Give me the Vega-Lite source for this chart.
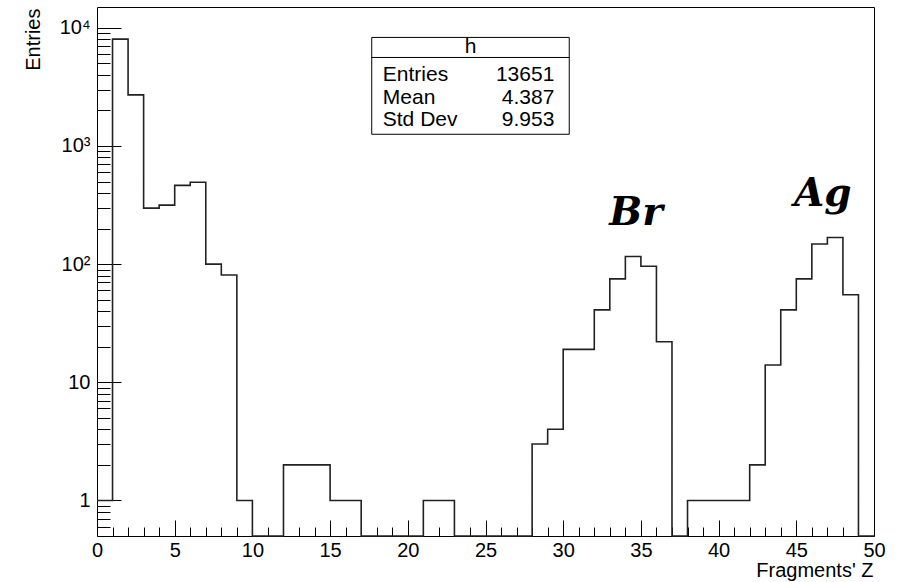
{
  "$schema": "https://vega.github.io/schema/vega-lite/v6.json",
  "width": 777,
  "height": 529,
  "autosize": "none",
  "padding": {"left": 97, "top": 7, "right": 28, "bottom": 46},
  "background": "white",
  "config": {"view": {"stroke": "#000", "strokeWidth": 1}, "font": "Liberation Sans"},
  "resolve": {"axis": {"x": "independent", "y": "independent"}},
  "datasets": {
    "hist": [
      {"z": 0, "entries": 1}, {"z": 1, "entries": 8020}, {"z": 2, "entries": 2704}, {"z": 3, "entries": 298},
      {"z": 4, "entries": 316}, {"z": 5, "entries": 464}, {"z": 6, "entries": 493}, {"z": 7, "entries": 100},
      {"z": 8, "entries": 81}, {"z": 9, "entries": 1}, {"z": 10, "entries": 0}, {"z": 11, "entries": 0},
      {"z": 12, "entries": 2}, {"z": 13, "entries": 2}, {"z": 14, "entries": 2}, {"z": 15, "entries": 1},
      {"z": 16, "entries": 1}, {"z": 17, "entries": 0}, {"z": 18, "entries": 0}, {"z": 19, "entries": 0},
      {"z": 20, "entries": 0}, {"z": 21, "entries": 1}, {"z": 22, "entries": 1}, {"z": 23, "entries": 0},
      {"z": 24, "entries": 0}, {"z": 25, "entries": 0}, {"z": 26, "entries": 0}, {"z": 27, "entries": 0},
      {"z": 28, "entries": 3}, {"z": 29, "entries": 4}, {"z": 30, "entries": 19}, {"z": 31, "entries": 19},
      {"z": 32, "entries": 41}, {"z": 33, "entries": 75}, {"z": 34, "entries": 116}, {"z": 35, "entries": 96},
      {"z": 36, "entries": 22}, {"z": 37, "entries": 0}, {"z": 38, "entries": 1}, {"z": 39, "entries": 1},
      {"z": 40, "entries": 1}, {"z": 41, "entries": 1}, {"z": 42, "entries": 2}, {"z": 43, "entries": 14},
      {"z": 44, "entries": 41}, {"z": 45, "entries": 75}, {"z": 46, "entries": 148}, {"z": 47, "entries": 168},
      {"z": 48, "entries": 55}, {"z": 49, "entries": 0}, {"z": 50, "entries": 0}
    ]
  },
  "layer": [
    {
      "data": {"name": "hist"},
      "mark": {"type": "line", "interpolate": "step-after", "color": "#222", "strokeWidth": 1.6},
      "encoding": {
        "x": {
          "field": "z", "type": "quantitative",
          "scale": {"domain": [0, 50], "nice": false, "zero": false},
          "axis": {
            "values": [0,1,2,3,4,5,6,7,8,9,10,11,12,13,14,15,16,17,18,19,20,21,22,23,24,25,26,27,28,29,30,31,32,33,34,35,36,37,38,39,40,41,42,43,44,45,46,47,48,49,50],
            "tickSize": {"condition": {"test": "datum.value % 5 === 0", "value": -16}, "value": -9},
            "labelExpr": "datum.value % 5 === 0 ? datum.label : ''",
            "domain": false, "grid": false,
            "tickColor": "#000", "tickWidth": 1,
            "labelFontSize": 20, "labelColor": "#000", "labelPadding": 20,
            "labelOverlap": false, "labelFlush": false,
            "title": "Fragments' Z", "titleFontSize": 20, "titleFontWeight": "normal", "titleColor": "#000",
            "titleX": 776, "titleY": 40, "titleAlign": "right", "titleBaseline": "alphabetic", "titleAnchor": null
          }
        },
        "y": {
          "field": "entries", "type": "quantitative",
          "scale": {"type": "log", "domain": [0.5, 15000], "clamp": true, "nice": false},
          "axis": {
            "values": [0.6,0.7,0.8,0.9,1,2,3,4,5,6,7,8,9,10,20,30,40,50,60,70,80,90,100,200,300,400,500,600,700,800,900,1000,2000,3000,4000,5000,6000,7000,8000,9000,10000],
            "tickSize": {"condition": {"test": "indexof([1,10,100,1000,10000], datum.value) >= 0", "value": -24}, "value": -13},
            "labelExpr": "datum.value === 1 ? '1' : datum.value === 10 ? '10' : datum.value === 100 ? '10²' : datum.value === 1000 ? '10³' : datum.value === 10000 ? '10⁴' : ''",
            "domain": false, "grid": false,
            "tickColor": "#000", "tickWidth": 1,
            "labelFontSize": 20, "labelColor": "#000", "labelPadding": 31,
            "labelOverlap": false, "labelFlush": false,
            "title": "Entries", "titleFontSize": 20, "titleFontWeight": "normal", "titleColor": "#000",
            "titleX": -58, "titleY": 1, "titleAngle": -90, "titleAlign": "right", "titleBaseline": "alphabetic", "titleAnchor": null
          }
        }
      }
    },
    {
      "data": {"values": [{}]},
      "mark": {"type": "rect", "fill": "white", "stroke": "#000", "strokeWidth": 1},
      "encoding": {
        "x": {"datum": 17.68, "type": "quantitative", "axis": null}, "x2": {"datum": 30.39},
        "y": {"datum": 1256, "type": "quantitative", "axis": null}, "y2": {"datum": 8290}
      }
    },
    {
      "data": {"values": [{}]},
      "mark": {"type": "rule", "color": "#000", "strokeWidth": 1},
      "encoding": {
        "x": {"datum": 17.68, "type": "quantitative", "axis": null}, "x2": {"datum": 30.39},
        "y": {"datum": 5610, "type": "quantitative", "axis": null}
      }
    },
    {
      "data": {"values": [{}]},
      "mark": {"type": "text", "text": "h", "align": "center", "baseline": "alphabetic", "fontSize": 21, "color": "#000"},
      "encoding": {"x": {"datum": 24.04, "type": "quantitative", "axis": null}, "y": {"datum": 6070, "type": "quantitative", "axis": null}}
    },
    {
      "data": {"values": [{}]},
      "mark": {"type": "text", "text": "Entries", "align": "left", "baseline": "alphabetic", "fontSize": 21, "color": "#000"},
      "encoding": {"x": {"datum": 18.39, "type": "quantitative", "axis": null}, "y": {"datum": 3556, "type": "quantitative", "axis": null}}
    },
    {
      "data": {"values": [{}]},
      "mark": {"type": "text", "text": "13651", "align": "right", "baseline": "alphabetic", "fontSize": 21, "color": "#000"},
      "encoding": {"x": {"datum": 29.43, "type": "quantitative", "axis": null}, "y": {"datum": 3556, "type": "quantitative", "axis": null}}
    },
    {
      "data": {"values": [{}]},
      "mark": {"type": "text", "text": "Mean", "align": "left", "baseline": "alphabetic", "fontSize": 21, "color": "#000"},
      "encoding": {"x": {"datum": 18.39, "type": "quantitative", "axis": null}, "y": {"datum": 2285, "type": "quantitative", "axis": null}}
    },
    {
      "data": {"values": [{}]},
      "mark": {"type": "text", "text": "4.387", "align": "right", "baseline": "alphabetic", "fontSize": 21, "color": "#000"},
      "encoding": {"x": {"datum": 29.43, "type": "quantitative", "axis": null}, "y": {"datum": 2285, "type": "quantitative", "axis": null}}
    },
    {
      "data": {"values": [{}]},
      "mark": {"type": "text", "text": "Std Dev", "align": "left", "baseline": "alphabetic", "fontSize": 21, "color": "#000"},
      "encoding": {"x": {"datum": 18.39, "type": "quantitative", "axis": null}, "y": {"datum": 1477, "type": "quantitative", "axis": null}}
    },
    {
      "data": {"values": [{}]},
      "mark": {"type": "text", "text": "9.953", "align": "right", "baseline": "alphabetic", "fontSize": 21, "color": "#000"},
      "encoding": {"x": {"datum": 29.43, "type": "quantitative", "axis": null}, "y": {"datum": 1477, "type": "quantitative", "axis": null}}
    },
    {
      "data": {"values": [{}]},
      "mark": {"type": "text", "text": "Br", "align": "center", "baseline": "alphabetic", "fontSize": 39, "font": "DejaVu Serif", "fontWeight": "bold", "fontStyle": "italic", "color": "#000"},
      "encoding": {"x": {"datum": 34.68, "type": "quantitative", "axis": null}, "y": {"datum": 216, "type": "quantitative", "axis": null}}
    },
    {
      "data": {"values": [{}]},
      "mark": {"type": "text", "text": "Ag", "align": "center", "baseline": "alphabetic", "fontSize": 39, "font": "DejaVu Serif", "fontWeight": "bold", "fontStyle": "italic", "color": "#000"},
      "encoding": {"x": {"datum": 46.71, "type": "quantitative", "axis": null}, "y": {"datum": 308, "type": "quantitative", "axis": null}}
    }
  ]
}
